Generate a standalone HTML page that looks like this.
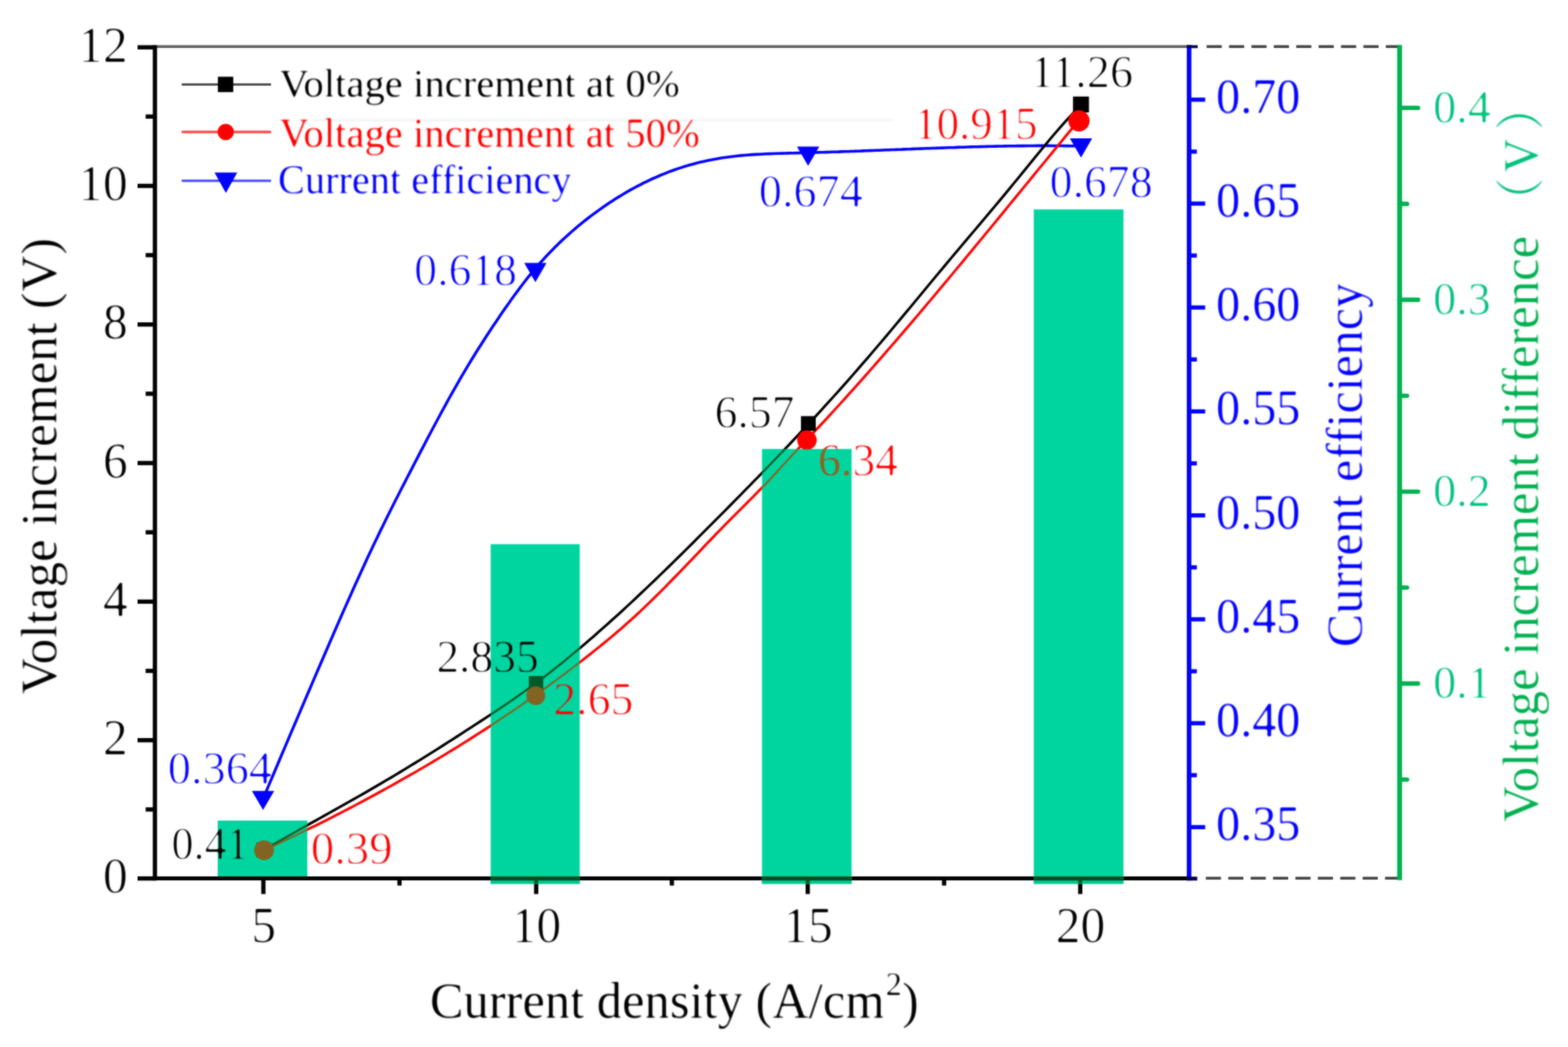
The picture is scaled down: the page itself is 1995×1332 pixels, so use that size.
<!DOCTYPE html>
<html lang="en">
<head>
<meta charset="utf-8">
<title>Voltage increment and current efficiency vs current density</title>
<style>
html,body{margin:0;padding:0;background:#fff;}
body{width:1995px;height:1332px;overflow:hidden;}
svg{display:block;font-family:"Liberation Serif", "Noto Serif CJK SC", serif;}
text{white-space:pre;}
</style>
</head>
<body>
<svg width="1995" height="1332" viewBox="0 0 1995 1332">
<rect width="1995" height="1332" fill="#fff"/>
<defs>
<clipPath id="cb">
<rect x="277.0" y="1043.9" width="114.0" height="71.1"/>
<rect x="624.3" y="692.3" width="113.3" height="432.1"/>
<rect x="969.5" y="571.2" width="114.0" height="553.2"/>
<rect x="1315.3" y="266.4" width="114.1" height="858.0"/>
</clipPath>
<clipPath id="cb3">
<rect x="969.5" y="571.2" width="114.0" height="553.2"/>
</clipPath>
<filter id="thinA" color-interpolation-filters="sRGB" x="-10%" y="-30%" width="120%" height="160%"><feGaussianBlur stdDeviation="0.9"/><feComponentTransfer><feFuncA type="linear" slope="2.0" intercept="-0.78"/></feComponentTransfer></filter>
<filter id="thinB" color-interpolation-filters="sRGB" x="-10%" y="-30%" width="120%" height="160%"><feGaussianBlur stdDeviation="0.9"/><feComponentTransfer><feFuncA type="linear" slope="1.7" intercept="-0.45"/></feComponentTransfer></filter>
<filter id="thinC" color-interpolation-filters="sRGB" x="-10%" y="-30%" width="120%" height="160%"><feGaussianBlur stdDeviation="1.0"/><feComponentTransfer><feFuncA type="linear" slope="2.2" intercept="-1.0"/></feComponentTransfer></filter>
<filter id="soft" filterUnits="userSpaceOnUse" x="0" y="0" width="1995" height="1332" color-interpolation-filters="sRGB"><feGaussianBlur stdDeviation="0.9" result="b"/><feComposite in="SourceGraphic" in2="b" operator="arithmetic" k1="0" k2="0.45" k3="0.55" k4="0"/></filter>
</defs>
<g id="chart" filter="url(#soft)">
<line x1="397" y1="152.8" x2="1136.5" y2="152.8" stroke="#f5f5f5" stroke-width="3.2"/>
<g id="axes" stroke-linecap="butt">
<line x1="197.1" y1="59.3" x2="1512.9" y2="59.3" stroke="#5c5c5c" stroke-width="3.5"/>
<line x1="197.1" y1="57.4" x2="197.1" y2="1120.1999999999998" stroke="#000" stroke-width="5.4"/>
<line x1="194.4" y1="1117.6" x2="1510" y2="1117.6" stroke="#000" stroke-width="5.0"/>
<line x1="175.0" y1="1117.6" x2="197.1" y2="1117.6" stroke="#000" stroke-width="5.4"/>
<line x1="185.3" y1="1029.8" x2="197.1" y2="1029.8" stroke="#000" stroke-width="5.4"/>
<line x1="175.0" y1="941.7" x2="197.1" y2="941.7" stroke="#000" stroke-width="5.4"/>
<line x1="185.3" y1="853.5" x2="197.1" y2="853.5" stroke="#000" stroke-width="5.4"/>
<line x1="175.0" y1="765.4" x2="197.1" y2="765.4" stroke="#000" stroke-width="5.4"/>
<line x1="185.3" y1="677.2" x2="197.1" y2="677.2" stroke="#000" stroke-width="5.4"/>
<line x1="175.0" y1="589.1" x2="197.1" y2="589.1" stroke="#000" stroke-width="5.4"/>
<line x1="185.3" y1="500.9" x2="197.1" y2="500.9" stroke="#000" stroke-width="5.4"/>
<line x1="175.0" y1="412.8" x2="197.1" y2="412.8" stroke="#000" stroke-width="5.4"/>
<line x1="185.3" y1="324.6" x2="197.1" y2="324.6" stroke="#000" stroke-width="5.4"/>
<line x1="175.0" y1="236.5" x2="197.1" y2="236.5" stroke="#000" stroke-width="5.4"/>
<line x1="185.3" y1="148.3" x2="197.1" y2="148.3" stroke="#000" stroke-width="5.4"/>
<line x1="175.0" y1="60.2" x2="197.1" y2="60.2" stroke="#000" stroke-width="5.4"/>
<line x1="335.1" y1="1117.6" x2="335.1" y2="1137.4" stroke="#000" stroke-width="5.4"/>
<line x1="508.3" y1="1117.6" x2="508.3" y2="1126.6" stroke="#000" stroke-width="5.4"/>
<line x1="682.2" y1="1117.6" x2="682.2" y2="1137.4" stroke="#000" stroke-width="5.4"/>
<line x1="854.8" y1="1117.6" x2="854.8" y2="1126.6" stroke="#000" stroke-width="5.4"/>
<line x1="1027.7" y1="1117.6" x2="1027.7" y2="1137.4" stroke="#000" stroke-width="5.4"/>
<line x1="1201.2" y1="1117.6" x2="1201.2" y2="1126.6" stroke="#000" stroke-width="5.4"/>
<line x1="1374.4" y1="1117.6" x2="1374.4" y2="1137.4" stroke="#000" stroke-width="5.4"/>
</g>
<g id="dashes" stroke="#404040" stroke-width="3.6" stroke-dasharray="19.3 9.2">
<line x1="1535.2" y1="59.199999999999996" x2="1783.8" y2="59.199999999999996"/>
<line x1="1534.2" y1="1117.3" x2="1783.8" y2="1117.3"/>
</g>
<g id="blue-axis">
<line x1="1512.9" y1="57.2" x2="1512.9" y2="1120.1999999999998" stroke="#0000ff" stroke-width="5.8"/>
<line x1="1512.9" y1="1052.3" x2="1533.4" y2="1052.3" stroke="#0000ff" stroke-width="5.3"/>
<line x1="1512.9" y1="986.2" x2="1522.8" y2="986.2" stroke="#0000ff" stroke-width="5.3"/>
<line x1="1512.9" y1="920.1" x2="1533.4" y2="920.1" stroke="#0000ff" stroke-width="5.3"/>
<line x1="1512.9" y1="854.0" x2="1522.8" y2="854.0" stroke="#0000ff" stroke-width="5.3"/>
<line x1="1512.9" y1="787.9" x2="1533.4" y2="787.9" stroke="#0000ff" stroke-width="5.3"/>
<line x1="1512.9" y1="721.8" x2="1522.8" y2="721.8" stroke="#0000ff" stroke-width="5.3"/>
<line x1="1512.9" y1="655.7" x2="1533.4" y2="655.7" stroke="#0000ff" stroke-width="5.3"/>
<line x1="1512.9" y1="589.5" x2="1522.8" y2="589.5" stroke="#0000ff" stroke-width="5.3"/>
<line x1="1512.9" y1="523.4" x2="1533.4" y2="523.4" stroke="#0000ff" stroke-width="5.3"/>
<line x1="1512.9" y1="457.3" x2="1522.8" y2="457.3" stroke="#0000ff" stroke-width="5.3"/>
<line x1="1512.9" y1="391.2" x2="1533.4" y2="391.2" stroke="#0000ff" stroke-width="5.3"/>
<line x1="1512.9" y1="325.1" x2="1522.8" y2="325.1" stroke="#0000ff" stroke-width="5.3"/>
<line x1="1512.9" y1="259.0" x2="1533.4" y2="259.0" stroke="#0000ff" stroke-width="5.3"/>
<line x1="1512.9" y1="192.9" x2="1522.8" y2="192.9" stroke="#0000ff" stroke-width="5.3"/>
<line x1="1512.9" y1="126.8" x2="1533.4" y2="126.8" stroke="#0000ff" stroke-width="5.3"/>
</g>
<rect x="1509.9" y="57.5" width="14.0" height="3.7" fill="#00004a"/>
<rect x="1509.9" y="1115.3" width="13.4" height="4.9" fill="#00004a"/>
<g id="green-axis">
<line x1="1780.75" y1="57.2" x2="1780.75" y2="1119.8" stroke="#00b050" stroke-width="6.2"/>
<line x1="1780.75" y1="991.7" x2="1790.2" y2="991.7" stroke="#00b050" stroke-width="5.6" stroke-linecap="round"/>
<line x1="1780.75" y1="869.6" x2="1804.2" y2="869.6" stroke="#00b050" stroke-width="5.6" stroke-linecap="round"/>
<line x1="1780.75" y1="747.5" x2="1790.2" y2="747.5" stroke="#00b050" stroke-width="5.6" stroke-linecap="round"/>
<line x1="1780.75" y1="625.5" x2="1804.2" y2="625.5" stroke="#00b050" stroke-width="5.6" stroke-linecap="round"/>
<line x1="1780.75" y1="503.5" x2="1790.2" y2="503.5" stroke="#00b050" stroke-width="5.6" stroke-linecap="round"/>
<line x1="1780.75" y1="381.4" x2="1804.2" y2="381.4" stroke="#00b050" stroke-width="5.6" stroke-linecap="round"/>
<line x1="1780.75" y1="259.4" x2="1790.2" y2="259.4" stroke="#00b050" stroke-width="5.6" stroke-linecap="round"/>
<line x1="1780.75" y1="137.3" x2="1804.2" y2="137.3" stroke="#00b050" stroke-width="5.6" stroke-linecap="round"/>
</g>
<g id="series">
<g fill="none" stroke-linejoin="round" >
<path d="M335.0,1015.6 L339.0,1006.1 L343.0,996.6 L347.0,987.2 L351.0,977.7 L355.0,968.3 L359.0,958.8 L363.0,949.4 L367.0,940.0 L371.0,930.6 L375.0,921.2 L379.0,911.9 L383.0,902.5 L387.0,893.1 L391.0,883.8 L395.0,874.5 L399.0,865.1 L403.0,855.8 L407.0,846.5 L411.0,837.2 L415.0,828.0 L419.0,818.7 L423.0,809.5 L427.0,800.3 L431.0,791.1 L435.0,782.0 L439.0,772.9 L443.0,763.9 L447.0,755.0 L451.0,746.1 L455.0,737.2 L459.0,728.4 L463.0,719.7 L467.0,711.1 L471.0,702.6 L475.0,694.1 L479.0,685.7 L483.0,677.4 L487.0,669.2 L491.0,661.0 L495.0,653.0 L499.0,645.0 L503.0,637.0 L507.0,629.2 L511.0,621.3 L515.0,613.6 L519.0,605.8 L523.0,598.1 L527.0,590.3 L531.0,582.6 L535.0,574.9 L539.0,567.3 L543.0,559.6 L547.0,552.0 L551.0,544.5 L555.0,537.0 L559.0,529.5 L563.0,522.1 L567.0,514.8 L571.0,507.5 L575.0,500.4 L579.0,493.3 L583.0,486.3 L587.0,479.4 L591.0,472.6 L595.0,465.9 L599.0,459.3 L603.0,452.8 L607.0,446.3 L611.0,440.0 L615.0,433.7 L619.0,427.5 L623.0,421.4 L627.0,415.3 L631.0,409.4 L635.0,403.5 L639.0,397.6 L643.0,391.9 L647.0,386.2 L651.0,380.5 L655.0,375.0 L659.0,369.6 L663.0,364.2 L667.0,359.0 L671.0,353.9 L675.0,349.0 L679.0,344.1 L683.0,339.4 L687.0,334.8 L691.0,330.4 L695.0,326.0 L699.0,321.8 L703.0,317.7 L707.0,313.6 L711.0,309.7 L715.0,305.9 L719.0,302.2 L723.0,298.6 L727.0,295.0 L731.0,291.6 L735.0,288.2 L739.0,284.9 L743.0,281.7 L747.0,278.5 L751.0,275.4 L755.0,272.4 L759.0,269.5 L763.0,266.6 L767.0,263.8 L771.0,261.0 L775.0,258.3 L779.0,255.7 L783.0,253.1 L787.0,250.6 L791.0,248.2 L795.0,245.8 L799.0,243.4 L803.0,241.2 L807.0,239.0 L811.0,236.8 L815.0,234.8 L819.0,232.7 L823.0,230.8 L827.0,228.9 L831.0,227.0 L835.0,225.3 L839.0,223.5 L843.0,221.9 L847.0,220.3 L851.0,218.7 L855.0,217.2 L859.0,215.8 L863.0,214.4 L867.0,213.1 L871.0,211.8 L875.0,210.6 L879.0,209.5 L883.0,208.4 L887.0,207.3 L891.0,206.3 L895.0,205.4 L899.0,204.5 L903.0,203.7 L907.0,202.9 L911.0,202.2 L915.0,201.5 L919.0,200.8 L923.0,200.3 L927.0,199.7 L931.0,199.2 L935.0,198.7 L939.0,198.3 L943.0,197.9 L947.0,197.5 L951.0,197.2 L955.0,196.9 L959.0,196.6 L963.0,196.4 L967.0,196.2 L971.0,196.0 L975.0,195.8 L979.0,195.6 L983.0,195.5 L987.0,195.3 L991.0,195.2 L995.0,195.1 L999.0,195.0 L1003.0,194.9 L1007.0,194.8 L1011.0,194.7 L1015.0,194.6 L1019.0,194.5 L1023.0,194.4 L1027.0,194.3 L1031.0,194.2 L1035.0,194.1 L1039.0,194.0 L1043.0,193.8 L1047.0,193.7 L1051.0,193.6 L1055.0,193.5 L1059.0,193.3 L1063.0,193.2 L1067.0,193.1 L1071.0,192.9 L1075.0,192.8 L1079.0,192.7 L1083.0,192.5 L1087.0,192.4 L1091.0,192.2 L1095.0,192.1 L1099.0,191.9 L1103.0,191.8 L1107.0,191.6 L1111.0,191.5 L1115.0,191.3 L1119.0,191.2 L1123.0,191.0 L1127.0,190.8 L1131.0,190.7 L1135.0,190.5 L1139.0,190.4 L1143.0,190.2 L1147.0,190.1 L1151.0,189.9 L1155.0,189.7 L1159.0,189.6 L1163.0,189.4 L1167.0,189.3 L1171.0,189.1 L1175.0,189.0 L1179.0,188.8 L1183.0,188.7 L1187.0,188.5 L1191.0,188.4 L1195.0,188.2 L1199.0,188.1 L1203.0,188.0 L1207.0,187.8 L1211.0,187.7 L1215.0,187.6 L1219.0,187.4 L1223.0,187.3 L1227.0,187.2 L1231.0,187.0 L1235.0,186.9 L1239.0,186.8 L1243.0,186.7 L1247.0,186.6 L1251.0,186.5 L1255.0,186.4 L1259.0,186.3 L1263.0,186.2 L1267.0,186.1 L1271.0,186.0 L1275.0,186.0 L1279.0,185.9 L1283.0,185.8 L1287.0,185.8 L1291.0,185.7 L1295.0,185.6 L1299.0,185.6 L1303.0,185.6 L1307.0,185.5 L1311.0,185.5 L1315.0,185.5 L1319.0,185.4 L1323.0,185.4 L1327.0,185.4 L1331.0,185.4 L1335.0,185.4 L1339.0,185.5 L1343.0,185.5 L1347.0,185.5 L1351.0,185.5 L1355.0,185.6 L1359.0,185.6 L1363.0,185.7 L1367.0,185.8 L1371.0,185.8 L1375.0,185.9" stroke="#0000ff" stroke-width="3.6"/>
<path d="M335.5,1081.4 L341.5,1077.9 L347.5,1074.5 L353.5,1071.0 L359.5,1067.6 L365.5,1064.2 L371.5,1060.8 L377.5,1057.4 L383.5,1054.0 L389.5,1050.7 L395.5,1047.3 L401.5,1044.0 L407.5,1040.6 L413.5,1037.2 L419.5,1033.9 L425.5,1030.5 L431.5,1027.1 L437.5,1023.8 L443.5,1020.4 L449.5,1017.0 L455.5,1013.6 L461.5,1010.2 L467.5,1006.7 L473.5,1003.3 L479.5,999.8 L485.5,996.3 L491.5,992.7 L497.5,989.2 L503.5,985.6 L509.5,982.0 L515.5,978.4 L521.5,974.7 L527.5,971.0 L533.5,967.3 L539.5,963.6 L545.5,959.8 L551.5,956.1 L557.5,952.3 L563.5,948.5 L569.5,944.7 L575.5,940.8 L581.5,937.0 L587.5,933.1 L593.5,929.2 L599.5,925.3 L605.5,921.4 L611.5,917.5 L617.5,913.6 L623.5,909.6 L629.5,905.6 L635.5,901.6 L641.5,897.6 L647.5,893.5 L653.5,889.3 L659.5,885.1 L665.5,880.9 L671.5,876.6 L677.5,872.2 L683.5,867.8 L689.5,863.3 L695.5,858.7 L701.5,854.1 L707.5,849.3 L713.5,844.6 L719.5,839.7 L725.5,834.8 L731.5,829.8 L737.5,824.8 L743.5,819.7 L749.5,814.6 L755.5,809.4 L761.5,804.1 L767.5,798.8 L773.5,793.5 L779.5,788.1 L785.5,782.7 L791.5,777.2 L797.5,771.6 L803.5,766.1 L809.5,760.5 L815.5,754.8 L821.5,749.1 L827.5,743.4 L833.5,737.7 L839.5,731.9 L845.5,726.1 L851.5,720.2 L857.5,714.4 L863.5,708.5 L869.5,702.6 L875.5,696.6 L881.5,690.7 L887.5,684.7 L893.5,678.7 L899.5,672.7 L905.5,666.7 L911.5,660.6 L917.5,654.6 L923.5,648.6 L929.5,642.5 L935.5,636.4 L941.5,630.3 L947.5,624.2 L953.5,618.1 L959.5,611.9 L965.5,605.8 L971.5,599.6 L977.5,593.4 L983.5,587.1 L989.5,580.9 L995.5,574.6 L1001.5,568.3 L1007.5,562.0 L1013.5,555.6 L1019.5,549.2 L1025.5,542.8 L1031.5,536.3 L1037.5,529.8 L1043.5,523.3 L1049.5,516.7 L1055.5,510.1 L1061.5,503.5 L1067.5,496.8 L1073.5,490.1 L1079.5,483.3 L1085.5,476.5 L1091.5,469.6 L1097.5,462.7 L1103.5,455.8 L1109.5,448.8 L1115.5,441.8 L1121.5,434.7 L1127.5,427.6 L1133.5,420.5 L1139.5,413.3 L1145.5,406.1 L1151.5,398.9 L1157.5,391.7 L1163.5,384.5 L1169.5,377.2 L1175.5,370.0 L1181.5,362.7 L1187.5,355.5 L1193.5,348.3 L1199.5,341.1 L1205.5,333.9 L1211.5,326.7 L1217.5,319.6 L1223.5,312.5 L1229.5,305.4 L1235.5,298.3 L1241.5,291.2 L1247.5,284.1 L1253.5,277.0 L1259.5,269.9 L1265.5,262.8 L1271.5,255.6 L1277.5,248.4 L1283.5,241.1 L1289.5,233.8 L1295.5,226.5 L1301.5,219.1 L1307.5,211.7 L1313.5,204.4 L1319.5,197.0 L1325.5,189.7 L1331.5,182.5 L1337.5,175.3 L1343.5,168.3 L1349.5,161.4 L1355.5,154.6 L1361.5,148.0 L1368.0,141.0" stroke="#000" stroke-width="3.3"/>
<path d="M335.8,1081.8 L341.8,1079.0 L347.8,1076.2 L353.8,1073.4 L359.8,1070.6 L365.8,1067.7 L371.8,1064.9 L377.8,1062.0 L383.8,1059.0 L389.8,1056.1 L395.8,1053.1 L401.8,1050.2 L407.8,1047.2 L413.8,1044.2 L419.8,1041.1 L425.8,1038.0 L431.8,1035.0 L437.8,1031.9 L443.8,1028.7 L449.8,1025.6 L455.8,1022.4 L461.8,1019.2 L467.8,1016.0 L473.8,1012.8 L479.8,1009.5 L485.8,1006.2 L491.8,1002.9 L497.8,999.6 L503.8,996.2 L509.8,992.8 L515.8,989.4 L521.8,986.0 L527.8,982.6 L533.8,979.1 L539.8,975.6 L545.8,972.1 L551.8,968.5 L557.8,964.9 L563.8,961.3 L569.8,957.7 L575.8,954.0 L581.8,950.3 L587.8,946.6 L593.8,942.8 L599.8,939.0 L605.8,935.2 L611.8,931.4 L617.8,927.5 L623.8,923.6 L629.8,919.6 L635.8,915.6 L641.8,911.6 L647.8,907.6 L653.8,903.5 L659.8,899.4 L665.8,895.2 L671.8,891.0 L677.8,886.8 L683.8,882.5 L689.8,878.2 L695.8,873.9 L701.8,869.5 L707.8,865.1 L713.8,860.7 L719.8,856.2 L725.8,851.6 L731.8,847.1 L737.8,842.5 L743.8,837.8 L749.8,833.1 L755.8,828.3 L761.8,823.5 L767.8,818.6 L773.8,813.7 L779.8,808.7 L785.8,803.6 L791.8,798.4 L797.8,793.1 L803.8,787.7 L809.8,782.2 L815.8,776.6 L821.8,770.9 L827.8,765.1 L833.8,759.3 L839.8,753.3 L845.8,747.3 L851.8,741.2 L857.8,735.0 L863.8,728.8 L869.8,722.6 L875.8,716.3 L881.8,710.1 L887.8,703.8 L893.8,697.5 L899.8,691.2 L905.8,685.0 L911.8,678.7 L917.8,672.6 L923.8,666.4 L929.8,660.3 L935.8,654.3 L941.8,648.3 L947.8,642.3 L953.8,636.4 L959.8,630.3 L965.8,624.2 L971.8,618.1 L977.8,611.8 L983.8,605.4 L989.8,598.9 L995.8,592.3 L1001.8,585.8 L1007.8,579.2 L1013.8,572.8 L1019.8,566.4 L1025.8,560.1 L1031.8,553.8 L1037.8,547.4 L1043.8,541.0 L1049.8,534.6 L1055.8,528.1 L1061.8,521.5 L1067.8,515.0 L1073.8,508.4 L1079.8,501.7 L1085.8,495.1 L1091.8,488.3 L1097.8,481.6 L1103.8,474.8 L1109.8,468.0 L1115.8,461.2 L1121.8,454.3 L1127.8,447.4 L1133.8,440.5 L1139.8,433.6 L1145.8,426.6 L1151.8,419.6 L1157.8,412.6 L1163.8,405.6 L1169.8,398.5 L1175.8,391.4 L1181.8,384.3 L1187.8,377.2 L1193.8,370.0 L1199.8,362.9 L1205.8,355.7 L1211.8,348.5 L1217.8,341.3 L1223.8,334.1 L1229.8,326.8 L1235.8,319.6 L1241.8,312.3 L1247.8,305.0 L1253.8,297.8 L1259.8,290.5 L1265.8,283.2 L1271.8,275.9 L1277.8,268.6 L1283.8,261.3 L1289.8,253.9 L1295.8,246.6 L1301.8,239.3 L1307.8,232.0 L1313.8,224.6 L1319.8,217.3 L1325.8,210.0 L1331.8,202.7 L1337.8,195.4 L1343.8,188.0 L1349.8,180.7 L1355.8,173.4 L1361.8,166.1 L1367.8,158.8 L1372.2,153.5" stroke="#ff0000" stroke-width="3.3"/>
</g>
<g >
<polygon points="320.5,1006.2 348.9,1006.2 334.7,1030.6" fill="#0000ff"/>
<polygon points="667.0,334.6 695.4,334.6 681.2,359.0" fill="#0000ff"/>
<polygon points="1014.0,186.6 1042.4,186.6 1028.2,211.0" fill="#0000ff"/>
<polygon points="1361.2,176.0 1389.6,176.0 1375.4,200.4" fill="#0000ff"/>
<rect x="326.1" y="1072.0" width="18.8" height="18.8" fill="#000"/>
<rect x="672.8" y="860.0" width="18.4" height="18.4" fill="#000"/>
<rect x="1019.1" y="529.4" width="18.8" height="18.8" fill="#000"/>
<rect x="1365.2" y="122.8" width="20.3" height="20.3" fill="#000"/>
<circle cx="336.0" cy="1081.7" r="12.6" fill="#ff0000"/>
<circle cx="681.7" cy="884.9" r="12.0" fill="#ff0000"/>
<circle cx="1026.7" cy="560.0" r="12.4" fill="#ff0000"/>
<circle cx="1372.8" cy="153.8" r="13.5" fill="#ff0000"/>
</g>
</g>
<g id="bars">
<rect x="277.0" y="1043.9" width="114.0" height="71.1" fill="#00d5a0"/>
<rect x="624.3" y="692.3" width="113.3" height="432.1" fill="#00d5a0"/>
<rect x="969.5" y="571.2" width="114.0" height="553.2" fill="#00d5a0"/>
<rect x="1315.3" y="266.4" width="114.1" height="858.0" fill="#00d5a0"/>
</g>
<g id="axis-over-bars">
<rect x="624.3" y="1120.0" width="113.3" height="4.4" fill="#00c890"/>
<rect x="624.3" y="1115.0" width="113.3" height="5.2" fill="#004d1e"/>
<rect x="679.6" y="1120.0" width="5.2" height="4.4" fill="#00632a"/>
<rect x="969.5" y="1120.0" width="114.0" height="4.4" fill="#00c890"/>
<rect x="969.5" y="1115.0" width="114.0" height="5.2" fill="#004d1e"/>
<rect x="1025.1" y="1120.0" width="5.2" height="4.4" fill="#00632a"/>
<rect x="1315.3" y="1120.0" width="114.1" height="4.4" fill="#00c890"/>
<rect x="1315.3" y="1115.0" width="114.1" height="5.2" fill="#004d1e"/>
<rect x="1371.8" y="1120.0" width="5.2" height="4.4" fill="#00632a"/>
</g>
<g id="series-over-bars">
<g fill="none" stroke-linejoin="round" clip-path="url(#cb)">
<path d="M335.0,1015.6 L339.0,1006.1 L343.0,996.6 L347.0,987.2 L351.0,977.7 L355.0,968.3 L359.0,958.8 L363.0,949.4 L367.0,940.0 L371.0,930.6 L375.0,921.2 L379.0,911.9 L383.0,902.5 L387.0,893.1 L391.0,883.8 L395.0,874.5 L399.0,865.1 L403.0,855.8 L407.0,846.5 L411.0,837.2 L415.0,828.0 L419.0,818.7 L423.0,809.5 L427.0,800.3 L431.0,791.1 L435.0,782.0 L439.0,772.9 L443.0,763.9 L447.0,755.0 L451.0,746.1 L455.0,737.2 L459.0,728.4 L463.0,719.7 L467.0,711.1 L471.0,702.6 L475.0,694.1 L479.0,685.7 L483.0,677.4 L487.0,669.2 L491.0,661.0 L495.0,653.0 L499.0,645.0 L503.0,637.0 L507.0,629.2 L511.0,621.3 L515.0,613.6 L519.0,605.8 L523.0,598.1 L527.0,590.3 L531.0,582.6 L535.0,574.9 L539.0,567.3 L543.0,559.6 L547.0,552.0 L551.0,544.5 L555.0,537.0 L559.0,529.5 L563.0,522.1 L567.0,514.8 L571.0,507.5 L575.0,500.4 L579.0,493.3 L583.0,486.3 L587.0,479.4 L591.0,472.6 L595.0,465.9 L599.0,459.3 L603.0,452.8 L607.0,446.3 L611.0,440.0 L615.0,433.7 L619.0,427.5 L623.0,421.4 L627.0,415.3 L631.0,409.4 L635.0,403.5 L639.0,397.6 L643.0,391.9 L647.0,386.2 L651.0,380.5 L655.0,375.0 L659.0,369.6 L663.0,364.2 L667.0,359.0 L671.0,353.9 L675.0,349.0 L679.0,344.1 L683.0,339.4 L687.0,334.8 L691.0,330.4 L695.0,326.0 L699.0,321.8 L703.0,317.7 L707.0,313.6 L711.0,309.7 L715.0,305.9 L719.0,302.2 L723.0,298.6 L727.0,295.0 L731.0,291.6 L735.0,288.2 L739.0,284.9 L743.0,281.7 L747.0,278.5 L751.0,275.4 L755.0,272.4 L759.0,269.5 L763.0,266.6 L767.0,263.8 L771.0,261.0 L775.0,258.3 L779.0,255.7 L783.0,253.1 L787.0,250.6 L791.0,248.2 L795.0,245.8 L799.0,243.4 L803.0,241.2 L807.0,239.0 L811.0,236.8 L815.0,234.8 L819.0,232.7 L823.0,230.8 L827.0,228.9 L831.0,227.0 L835.0,225.3 L839.0,223.5 L843.0,221.9 L847.0,220.3 L851.0,218.7 L855.0,217.2 L859.0,215.8 L863.0,214.4 L867.0,213.1 L871.0,211.8 L875.0,210.6 L879.0,209.5 L883.0,208.4 L887.0,207.3 L891.0,206.3 L895.0,205.4 L899.0,204.5 L903.0,203.7 L907.0,202.9 L911.0,202.2 L915.0,201.5 L919.0,200.8 L923.0,200.3 L927.0,199.7 L931.0,199.2 L935.0,198.7 L939.0,198.3 L943.0,197.9 L947.0,197.5 L951.0,197.2 L955.0,196.9 L959.0,196.6 L963.0,196.4 L967.0,196.2 L971.0,196.0 L975.0,195.8 L979.0,195.6 L983.0,195.5 L987.0,195.3 L991.0,195.2 L995.0,195.1 L999.0,195.0 L1003.0,194.9 L1007.0,194.8 L1011.0,194.7 L1015.0,194.6 L1019.0,194.5 L1023.0,194.4 L1027.0,194.3 L1031.0,194.2 L1035.0,194.1 L1039.0,194.0 L1043.0,193.8 L1047.0,193.7 L1051.0,193.6 L1055.0,193.5 L1059.0,193.3 L1063.0,193.2 L1067.0,193.1 L1071.0,192.9 L1075.0,192.8 L1079.0,192.7 L1083.0,192.5 L1087.0,192.4 L1091.0,192.2 L1095.0,192.1 L1099.0,191.9 L1103.0,191.8 L1107.0,191.6 L1111.0,191.5 L1115.0,191.3 L1119.0,191.2 L1123.0,191.0 L1127.0,190.8 L1131.0,190.7 L1135.0,190.5 L1139.0,190.4 L1143.0,190.2 L1147.0,190.1 L1151.0,189.9 L1155.0,189.7 L1159.0,189.6 L1163.0,189.4 L1167.0,189.3 L1171.0,189.1 L1175.0,189.0 L1179.0,188.8 L1183.0,188.7 L1187.0,188.5 L1191.0,188.4 L1195.0,188.2 L1199.0,188.1 L1203.0,188.0 L1207.0,187.8 L1211.0,187.7 L1215.0,187.6 L1219.0,187.4 L1223.0,187.3 L1227.0,187.2 L1231.0,187.0 L1235.0,186.9 L1239.0,186.8 L1243.0,186.7 L1247.0,186.6 L1251.0,186.5 L1255.0,186.4 L1259.0,186.3 L1263.0,186.2 L1267.0,186.1 L1271.0,186.0 L1275.0,186.0 L1279.0,185.9 L1283.0,185.8 L1287.0,185.8 L1291.0,185.7 L1295.0,185.6 L1299.0,185.6 L1303.0,185.6 L1307.0,185.5 L1311.0,185.5 L1315.0,185.5 L1319.0,185.4 L1323.0,185.4 L1327.0,185.4 L1331.0,185.4 L1335.0,185.4 L1339.0,185.5 L1343.0,185.5 L1347.0,185.5 L1351.0,185.5 L1355.0,185.6 L1359.0,185.6 L1363.0,185.7 L1367.0,185.8 L1371.0,185.8 L1375.0,185.9" stroke="#0a3cc0" stroke-width="3.6"/>
<path d="M335.5,1081.4 L341.5,1077.9 L347.5,1074.5 L353.5,1071.0 L359.5,1067.6 L365.5,1064.2 L371.5,1060.8 L377.5,1057.4 L383.5,1054.0 L389.5,1050.7 L395.5,1047.3 L401.5,1044.0 L407.5,1040.6 L413.5,1037.2 L419.5,1033.9 L425.5,1030.5 L431.5,1027.1 L437.5,1023.8 L443.5,1020.4 L449.5,1017.0 L455.5,1013.6 L461.5,1010.2 L467.5,1006.7 L473.5,1003.3 L479.5,999.8 L485.5,996.3 L491.5,992.7 L497.5,989.2 L503.5,985.6 L509.5,982.0 L515.5,978.4 L521.5,974.7 L527.5,971.0 L533.5,967.3 L539.5,963.6 L545.5,959.8 L551.5,956.1 L557.5,952.3 L563.5,948.5 L569.5,944.7 L575.5,940.8 L581.5,937.0 L587.5,933.1 L593.5,929.2 L599.5,925.3 L605.5,921.4 L611.5,917.5 L617.5,913.6 L623.5,909.6 L629.5,905.6 L635.5,901.6 L641.5,897.6 L647.5,893.5 L653.5,889.3 L659.5,885.1 L665.5,880.9 L671.5,876.6 L677.5,872.2 L683.5,867.8 L689.5,863.3 L695.5,858.7 L701.5,854.1 L707.5,849.3 L713.5,844.6 L719.5,839.7 L725.5,834.8 L731.5,829.8 L737.5,824.8 L743.5,819.7 L749.5,814.6 L755.5,809.4 L761.5,804.1 L767.5,798.8 L773.5,793.5 L779.5,788.1 L785.5,782.7 L791.5,777.2 L797.5,771.6 L803.5,766.1 L809.5,760.5 L815.5,754.8 L821.5,749.1 L827.5,743.4 L833.5,737.7 L839.5,731.9 L845.5,726.1 L851.5,720.2 L857.5,714.4 L863.5,708.5 L869.5,702.6 L875.5,696.6 L881.5,690.7 L887.5,684.7 L893.5,678.7 L899.5,672.7 L905.5,666.7 L911.5,660.6 L917.5,654.6 L923.5,648.6 L929.5,642.5 L935.5,636.4 L941.5,630.3 L947.5,624.2 L953.5,618.1 L959.5,611.9 L965.5,605.8 L971.5,599.6 L977.5,593.4 L983.5,587.1 L989.5,580.9 L995.5,574.6 L1001.5,568.3 L1007.5,562.0 L1013.5,555.6 L1019.5,549.2 L1025.5,542.8 L1031.5,536.3 L1037.5,529.8 L1043.5,523.3 L1049.5,516.7 L1055.5,510.1 L1061.5,503.5 L1067.5,496.8 L1073.5,490.1 L1079.5,483.3 L1085.5,476.5 L1091.5,469.6 L1097.5,462.7 L1103.5,455.8 L1109.5,448.8 L1115.5,441.8 L1121.5,434.7 L1127.5,427.6 L1133.5,420.5 L1139.5,413.3 L1145.5,406.1 L1151.5,398.9 L1157.5,391.7 L1163.5,384.5 L1169.5,377.2 L1175.5,370.0 L1181.5,362.7 L1187.5,355.5 L1193.5,348.3 L1199.5,341.1 L1205.5,333.9 L1211.5,326.7 L1217.5,319.6 L1223.5,312.5 L1229.5,305.4 L1235.5,298.3 L1241.5,291.2 L1247.5,284.1 L1253.5,277.0 L1259.5,269.9 L1265.5,262.8 L1271.5,255.6 L1277.5,248.4 L1283.5,241.1 L1289.5,233.8 L1295.5,226.5 L1301.5,219.1 L1307.5,211.7 L1313.5,204.4 L1319.5,197.0 L1325.5,189.7 L1331.5,182.5 L1337.5,175.3 L1343.5,168.3 L1349.5,161.4 L1355.5,154.6 L1361.5,148.0 L1368.0,141.0" stroke="#005a28" stroke-width="2.7"/>
<path d="M335.8,1081.8 L341.8,1079.0 L347.8,1076.2 L353.8,1073.4 L359.8,1070.6 L365.8,1067.7 L371.8,1064.9 L377.8,1062.0 L383.8,1059.0 L389.8,1056.1 L395.8,1053.1 L401.8,1050.2 L407.8,1047.2 L413.8,1044.2 L419.8,1041.1 L425.8,1038.0 L431.8,1035.0 L437.8,1031.9 L443.8,1028.7 L449.8,1025.6 L455.8,1022.4 L461.8,1019.2 L467.8,1016.0 L473.8,1012.8 L479.8,1009.5 L485.8,1006.2 L491.8,1002.9 L497.8,999.6 L503.8,996.2 L509.8,992.8 L515.8,989.4 L521.8,986.0 L527.8,982.6 L533.8,979.1 L539.8,975.6 L545.8,972.1 L551.8,968.5 L557.8,964.9 L563.8,961.3 L569.8,957.7 L575.8,954.0 L581.8,950.3 L587.8,946.6 L593.8,942.8 L599.8,939.0 L605.8,935.2 L611.8,931.4 L617.8,927.5 L623.8,923.6 L629.8,919.6 L635.8,915.6 L641.8,911.6 L647.8,907.6 L653.8,903.5 L659.8,899.4 L665.8,895.2 L671.8,891.0 L677.8,886.8 L683.8,882.5 L689.8,878.2 L695.8,873.9 L701.8,869.5 L707.8,865.1 L713.8,860.7 L719.8,856.2 L725.8,851.6 L731.8,847.1 L737.8,842.5 L743.8,837.8 L749.8,833.1 L755.8,828.3 L761.8,823.5 L767.8,818.6 L773.8,813.7 L779.8,808.7 L785.8,803.6 L791.8,798.4 L797.8,793.1 L803.8,787.7 L809.8,782.2 L815.8,776.6 L821.8,770.9 L827.8,765.1 L833.8,759.3 L839.8,753.3 L845.8,747.3 L851.8,741.2 L857.8,735.0 L863.8,728.8 L869.8,722.6 L875.8,716.3 L881.8,710.1 L887.8,703.8 L893.8,697.5 L899.8,691.2 L905.8,685.0 L911.8,678.7 L917.8,672.6 L923.8,666.4 L929.8,660.3 L935.8,654.3 L941.8,648.3 L947.8,642.3 L953.8,636.4 L959.8,630.3 L965.8,624.2 L971.8,618.1 L977.8,611.8 L983.8,605.4 L989.8,598.9 L995.8,592.3 L1001.8,585.8 L1007.8,579.2 L1013.8,572.8 L1019.8,566.4 L1025.8,560.1 L1031.8,553.8 L1037.8,547.4 L1043.8,541.0 L1049.8,534.6 L1055.8,528.1 L1061.8,521.5 L1067.8,515.0 L1073.8,508.4 L1079.8,501.7 L1085.8,495.1 L1091.8,488.3 L1097.8,481.6 L1103.8,474.8 L1109.8,468.0 L1115.8,461.2 L1121.8,454.3 L1127.8,447.4 L1133.8,440.5 L1139.8,433.6 L1145.8,426.6 L1151.8,419.6 L1157.8,412.6 L1163.8,405.6 L1169.8,398.5 L1175.8,391.4 L1181.8,384.3 L1187.8,377.2 L1193.8,370.0 L1199.8,362.9 L1205.8,355.7 L1211.8,348.5 L1217.8,341.3 L1223.8,334.1 L1229.8,326.8 L1235.8,319.6 L1241.8,312.3 L1247.8,305.0 L1253.8,297.8 L1259.8,290.5 L1265.8,283.2 L1271.8,275.9 L1277.8,268.6 L1283.8,261.3 L1289.8,253.9 L1295.8,246.6 L1301.8,239.3 L1307.8,232.0 L1313.8,224.6 L1319.8,217.3 L1325.8,210.0 L1331.8,202.7 L1337.8,195.4 L1343.8,188.0 L1349.8,180.7 L1355.8,173.4 L1361.8,166.1 L1367.8,158.8 L1372.2,153.5" stroke="#826422" stroke-width="2.4"/>
</g>
<g clip-path="url(#cb)">
<polygon points="320.5,1006.2 348.9,1006.2 334.7,1030.6" fill="#0a3cc0"/>
<polygon points="667.0,334.6 695.4,334.6 681.2,359.0" fill="#0a3cc0"/>
<polygon points="1014.0,186.6 1042.4,186.6 1028.2,211.0" fill="#0a3cc0"/>
<polygon points="1361.2,176.0 1389.6,176.0 1375.4,200.4" fill="#0a3cc0"/>
<rect x="326.1" y="1072.0" width="18.8" height="18.8" fill="#005a28"/>
<rect x="672.8" y="860.0" width="18.4" height="18.4" fill="#005a28"/>
<rect x="1019.1" y="529.4" width="18.8" height="18.8" fill="#005a28"/>
<rect x="1365.2" y="122.8" width="20.3" height="20.3" fill="#005a28"/>
<circle cx="336.0" cy="1081.7" r="12.6" fill="#826422"/>
<circle cx="681.7" cy="884.9" r="12.0" fill="#826422"/>
<circle cx="1026.7" cy="560.0" r="12.4" fill="#826422"/>
<circle cx="1372.8" cy="153.8" r="13.5" fill="#826422"/>
</g>
</g>
<g id="left-labels" filter="url(#thinA)">
<text transform="translate(131.10,1136.10) scale(0.6300,0.6520)" font-size="100" >0</text>
<text transform="translate(131.10,960.20) scale(0.6300,0.6520)" font-size="100" >2</text>
<text transform="translate(131.10,783.90) scale(0.6300,0.6520)" font-size="100" >4</text>
<text transform="translate(131.10,607.60) scale(0.6300,0.6520)" font-size="100" >6</text>
<text transform="translate(131.10,431.30) scale(0.6300,0.6520)" font-size="100" >8</text>
<text transform="translate(99.60,255.00) scale(0.6300,0.6520)" font-size="100" >10</text>
<text transform="translate(99.60,78.70) scale(0.6300,0.6520)" font-size="100" >12</text>
</g>
<g id="bottom-labels" filter="url(#thinA)">
<text transform="translate(319.65,1198.80) scale(0.6300,0.6550)" font-size="100" >5</text>
<text transform="translate(651.00,1198.80) scale(0.6300,0.6550)" font-size="100" >10</text>
<text transform="translate(996.50,1198.80) scale(0.6300,0.6550)" font-size="100" >15</text>
<text transform="translate(1343.20,1198.80) scale(0.6300,0.6550)" font-size="100" >20</text>
</g>
<g id="blue-labels" fill="#0000ff" filter="url(#thinB)">
<text transform="translate(1547.30,1069.30) scale(0.6120,0.6440)" font-size="100" >0.35</text>
<text transform="translate(1547.30,937.09) scale(0.6120,0.6440)" font-size="100" >0.40</text>
<text transform="translate(1547.30,804.87) scale(0.6120,0.6440)" font-size="100" >0.45</text>
<text transform="translate(1547.30,672.66) scale(0.6120,0.6440)" font-size="100" >0.50</text>
<text transform="translate(1547.30,540.44) scale(0.6120,0.6440)" font-size="100" >0.55</text>
<text transform="translate(1547.30,408.23) scale(0.6120,0.6440)" font-size="100" >0.60</text>
<text transform="translate(1547.30,276.01) scale(0.6120,0.6440)" font-size="100" >0.65</text>
<text transform="translate(1547.30,143.80) scale(0.6120,0.6440)" font-size="100" >0.70</text>
</g>
<g id="green-labels" fill="#00c27c" filter="url(#thinA)">
<text transform="translate(1823.60,888.20) scale(0.5850,0.5850)" font-size="100" >0.1</text>
<text transform="translate(1823.60,644.10) scale(0.5850,0.5850)" font-size="100" >0.2</text>
<text transform="translate(1823.60,400.00) scale(0.5850,0.5850)" font-size="100" >0.3</text>
<text transform="translate(1823.60,155.90) scale(0.5850,0.5850)" font-size="100" >0.4</text>
</g>
<g id="titles" filter="url(#thinB)">
<text transform="translate(546.90,1294.60) scale(0.6430,0.6530)" font-size="100" >Current density (A/cm<tspan font-size="65" dx="2" dy="-44.5">2</tspan><tspan dy="44.5">)</tspan></text>
<text transform="translate(71.90,883.70) rotate(-90) scale(0.6510,0.6460)" font-size="100" >Voltage increment (V)</text>
<text transform="translate(1732.70,823.30) rotate(-90) scale(0.6360,0.6500)" font-size="100" fill="#0000ff" >Current efficiency</text>
<text transform="translate(1956.60,1046.20) rotate(-90) scale(0.6450,0.6500)" font-size="100" fill="#00b050" >Voltage increment difference</text>
<text transform="translate(1956.60,279.00) rotate(-90) scale(0.6000,0.6400)" font-size="100" fill="#00c27c" ><tspan x="-11">（</tspan><tspan x="99">V</tspan><tspan x="188">）</tspan></text>
</g>
<g id="legend">
<line x1="231.2" y1="107.5" x2="344.8" y2="107.5" stroke="#4d4d4d" stroke-width="3.2"/>
<rect x="277.2" y="97.6" width="19.6" height="19.6" fill="#000"/>
<line x1="231.2" y1="167.9" x2="344.8" y2="167.9" stroke="#ff4545" stroke-width="3.2"/>
<circle cx="287.2" cy="167.8" r="10.4" fill="#ff0000"/>
<line x1="231.2" y1="230.0" x2="344.8" y2="230.0" stroke="#4545ff" stroke-width="3.2"/>
<polygon points="272.9,219.6 301.9,219.6 287.4,245.6" fill="#0000ff"/>
<g id="legend-text" filter="url(#thinB)">
<text transform="translate(355.38,123.40) scale(0.5178,0.5170)" font-size="100" >Voltage increment at 0%</text>
<text transform="translate(355.38,187.20) scale(0.5175,0.5170)" font-size="100" fill="#ff0000" >Voltage increment at 50%</text>
<text transform="translate(353.85,246.40) scale(0.5128,0.5250)" font-size="100" fill="#0000ff" >Current efficiency</text>
</g>
</g>
<g id="data-labels" filter="url(#thinC)">
<text transform="translate(213.59,997.30) scale(0.5884,0.5930)" font-size="100" fill="#0000ff" >0.364</text>
<text transform="translate(218.20,1092.80) scale(0.5598,0.5930)" font-size="100" fill="#000" >0.41</text>
<text transform="translate(395.47,1098.80) scale(0.5937,0.5930)" font-size="100" fill="#ff0000" >0.39</text>
<text transform="translate(555.14,854.60) scale(0.5795,0.5930)" font-size="100" fill="#000" >2.835</text>
<text transform="translate(704.03,909.40) scale(0.5817,0.5930)" font-size="100" fill="#ff0000" >2.65</text>
<text transform="translate(527.12,363.20) scale(0.5807,0.5930)" font-size="100" fill="#0000ff" >0.618</text>
<text transform="translate(909.13,544.40) scale(0.5815,0.5930)" font-size="100" fill="#000" >6.57</text>
<text transform="translate(1040.73,604.50) scale(0.5820,0.5930)" font-size="100" fill="#ff0000" >6.34</text>
<text transform="translate(965.49,263.20) scale(0.5884,0.5930)" font-size="100" fill="#0000ff" >0.674</text>
<text transform="translate(1311.35,110.80) scale(0.5885,0.5930)" font-size="100" fill="#000" >11.26</text>
<text transform="translate(1163.21,177.10) scale(0.5708,0.5930)" font-size="100" fill="#ff0000" >10.915</text>
<text transform="translate(1335.62,250.80) scale(0.5816,0.5930)" font-size="100" fill="#0000ff" >0.678</text>
</g>
<g clip-path="url(#cb3)"><g filter="url(#thinC)"><text transform="translate(1040.73,604.50) scale(0.5820,0.5930)" font-size="100" fill="#8a6a1c" >6.34</text></g></g>
</g>
</svg>
</body>
</html>
